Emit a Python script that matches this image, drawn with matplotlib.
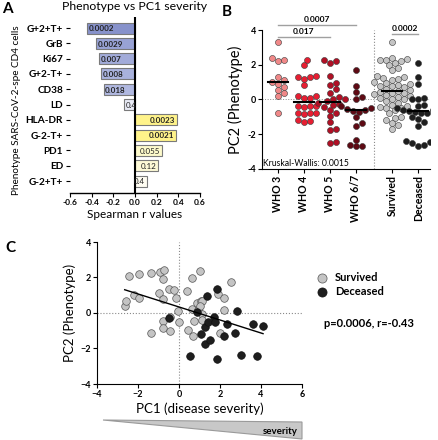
import numpy as np
import matplotlib
matplotlib.use("Agg")
import matplotlib.pyplot as plt
from matplotlib.patches import Polygon

plt.rcParams['font.family'] = ['Lato', 'DejaVu Sans']
plt.rcParams['font.weight'] = 'bold'

# ===== Panel A data =====
markers = ['G+2+T+', 'GrB', 'Ki67', 'G+2-T+', 'CD38', 'LD',
           'HLA-DR', 'G-2-T+', 'PD1', 'ED', 'G-2+T+']
spearman_r = [-0.44, -0.36, -0.335, -0.31, -0.29, -0.10,
              0.39, 0.38, 0.25, 0.21, 0.11]
p_labels = ['0.0002', '0.0029', '0.007', '0.008', '0.018', '0.4',
            '0.0023', '0.0021', '0.055', '0.12', '0.4']
bar_colors = ['#8792CB', '#98A2D5', '#A2ABD9', '#A9B2DD', '#B0B8E0', '#E9EBF6',
              '#FFF38A', '#FFF38A', '#FDFACB', '#FDF9D6', '#FFFDF2']

# ===== Panel B data =====
groups = ['WHO 3', 'WHO 4', 'WHO 5', 'WHO 6/7', 'Survived', 'Deceased']
who3 = [3.3, 2.4, 2.3, 2.2, 1.3, 1.1, 1.0, 0.9, 0.7, 0.55, 0.35, 0.2, -0.8]
who4 = [2.3, 2.0, 1.35, 1.3, 1.3, 1.2, 0.85, 0.2, 0.2, 0.1, 0.1, -0.4, -0.4,
        -0.4, -0.45, -0.8, -0.8, -0.8, -0.85, -1.2, -1.3, -1.25]
who5 = [2.3, 2.2, 2.1, 1.35, 0.95, 0.85, 0.6, 0.35, 0.15, 0.05, 0.0, -0.1,
        -0.2, -0.25, -0.3, -0.45, -0.6, -0.75, -0.95, -1.3, -1.7, -1.75,
        -2.45, -2.5]
who67 = [1.7, 0.8, 0.45, 0.15, 0.05, -0.4, -0.5, -0.55, -0.6, -0.65, -0.7,
         -1.0, -1.35, -1.55, -2.35, -2.6, -2.65, -2.7]
survived = [3.3, 2.4, 2.35, 2.3, 2.3, 2.2, 2.1, 2.0, 1.8, 1.7, 1.35, 1.3,
            1.25, 1.2, 1.1, 1.0, 0.95, 0.9, 0.85, 0.8, 0.75, 0.7, 0.6, 0.55,
            0.5, 0.45, 0.4, 0.35, 0.3, 0.25, 0.2, 0.15, 0.1, 0.05, 0.0, -0.1,
            -0.2, -0.3, -0.4, -0.45, -0.5, -0.5, -0.6, -0.8, -1.0, -1.05,
            -1.2, -1.35, -1.45, -1.7]
deceased = [2.1, 1.3, 0.9, 0.1, 0.0, 0.0, -0.3, -0.4, -0.5, -0.55, -0.6,
            -0.6, -0.65, -0.7, -0.75, -0.8, -1.0, -1.1, -1.3, -1.5, -2.35,
            -2.4, -2.45, -2.5, -2.6, -2.65]
group_values = [who3, who4, who5, who67, survived, deceased]
group_pos = [0, 1, 2, 3, 4.4, 5.4]
group_colors = ['#F08888', '#E61E32', '#B01025', '#5E0A14', '#C4C4C4', '#1E1E1E']

# ===== Panel C data =====
surv_pc1 = [-2.65, -2.6, -2.45, -2.2, -1.95, -1.93, -1.35, -1.35, -1.0, -0.95,
            -0.8, -0.78, -0.72, -0.8, -0.8, -0.45, -0.45, -0.48, -0.25, -0.17,
            -0.05, 0.0, 0.4, 0.42, 0.63, 0.62, 0.7, 0.72, 0.88, 0.95, 1.0,
            1.05, 1.12, 1.12, 1.12, 1.02, 1.9, 2.2, 2.18, 2.0, 2.55]
surv_pc2 = [0.4, 0.65, 2.08, 1.0, 0.82, 2.22, 2.28, -1.15, 1.1, 2.3,
            0.78, 1.9, 2.45, -0.45, -0.82, -1.0, -0.2, 1.38, 1.32, 0.86,
            0.1, -0.5, 1.25, -0.98, 1.98, 0.2, -1.3, -0.45, 0.57, 0.18, 2.35,
            0.69, -0.08, -0.42, 0.65, 0.4, 1.05, 0.85, 0.18, -1.1, 1.72]
dec_pc1 = [-0.5, 0.55, 0.9, 1.05, 1.25, 1.25, 1.35, 1.4, 1.5, 1.7, 1.75,
           1.85, 1.85, 2.2, 2.35, 2.75, 2.85, 3.0, 3.6, 3.8, 4.1]
dec_pc2 = [-0.3, -2.45, 0.05, -1.2, -0.8, -1.75, 0.95, -0.5, -1.5, -0.2, -0.5,
           1.35, -2.6, -1.3, -0.6, -1.1, 0.1, -2.35, -0.6, -2.45, -0.75]


def swarm(vals, center, xpx, ypx, d):
    # simple beeswarm: pixel spacing d, xpx/ypx = pixels per data unit
    vals = np.asarray(vals, float)
    xs = np.full(len(vals), center, float)
    placed = []
    for i in np.argsort(vals):
        y = vals[i] * ypx
        for k in range(60):
            off = ((k + 1) // 2) * (1 if k % 2 else -1) * d * 0.5
            if all((off - px) ** 2 + (y - py) ** 2 >= d * d * 0.95 for px, py in placed):
                break
        placed.append((off, y))
        xs[i] = center + off / xpx
    return xs


fig = plt.figure(figsize=(4.38, 4.40), dpi=100)
W, H = 438.0, 440.0


def box(x0, y0, x1, y1):
    return [x0 / W, 1 - y1 / H, (x1 - x0) / W, (y1 - y0) / H]


# ===== Panel A =====
axA = fig.add_axes(box(70, 17, 200, 193))
ypos = np.arange(len(markers))
axA.barh(ypos, spearman_r, height=0.72, color=bar_colors, edgecolor='#7A7A7A', linewidth=0.8)
axA.axvline(0, color='black', lw=1.5)
for yy, r, lab in zip(ypos, spearman_r, p_labels):
    sig = float(lab) < 0.05
    if r < 0:
        axA.text(r + 0.015, yy + 0.05, lab, ha='left', va='center', fontsize=5.8,
                 fontweight='bold' if sig else 'normal', color='#222222')
    else:
        axA.text(r - 0.015, yy + 0.05, lab, ha='right', va='center', fontsize=5.8,
                 fontweight='bold' if sig else 'normal', color='#222222')
axA.set_ylim(10.78, -0.72)
axA.set_xlim(-0.6, 0.6)
axA.set_yticks(ypos)
axA.set_yticklabels(markers, fontsize=7.2)
axA.set_xticks(np.arange(-0.6, 0.61, 0.2))
axA.set_xticklabels(['-0.6', '-0.4', '-0.2', '0.0', '0.2', '0.4', '0.6'], fontsize=6)
for s in ['top', 'right', 'left']:
    axA.spines[s].set_visible(False)
axA.spines['bottom'].set_linewidth(1.0)
axA.tick_params(axis='y', length=3, width=0.8, pad=2)
axA.tick_params(axis='x', length=3, width=0.8, pad=1.5)
axA.set_xlabel('Spearman r values', fontsize=8.5, labelpad=2)
axA.set_ylabel('Phenotype SARS-CoV-2-spe CD4 cells', fontsize=7.2, labelpad=4)
axA.yaxis.set_label_coords(-0.38, 0.47)
axA.set_title('Phenotype vs PC1 severity', fontsize=8.8, pad=5)
fig.text(2 / W, 1 - 9 / H, 'A', fontsize=11, fontweight='bold', va='center')

# ===== Panel B =====
axB = fig.add_axes(box(262, 30, 430, 169))
xlimB = (-0.6, 5.85)
axB.set_xlim(*xlimB)
axB.set_ylim(-4, 4)
xpxB = 168 / (xlimB[1] - xlimB[0])
ypxB = 139 / 8.0
for vals, pos, col in zip(group_values, group_pos, group_colors):
    xs = swarm(vals, pos, xpxB, ypxB, 6.0)
    axB.scatter(xs, vals, s=19, color=col, edgecolors='#3A3A3A', linewidths=0.4, zorder=3)
    med = np.median(vals)
    axB.plot([pos - 0.38, pos + 0.38], [med, med], color='black', lw=1.5, zorder=4)
axB.axhline(0, color='#8A8A8A', lw=0.7, ls=':', zorder=1)
axB.axvline(3.7, color='#8A8A8A', lw=0.8, ls=':', zorder=1)
axB.set_xticks(group_pos)
axB.set_xticklabels(groups, rotation=90, fontsize=7.6)
axB.set_yticks([-4, -2, 0, 2, 4])
axB.set_yticklabels(['-4', '-2', '0', '2', '4'], fontsize=6.5)
for s in ['top', 'right']:
    axB.spines[s].set_visible(False)
axB.tick_params(length=3, width=0.8, pad=1.5)
axB.set_ylabel('PC2 (Phenotype)', fontsize=10.5, labelpad=3)
# significance brackets
for (a, b, yl, txt) in [(0, 3, 4.3, '0.0007'), (0, 2, 3.62, '0.017'), (4.4, 5.4, 3.75, '0.0002')]:
    axB.plot([a, b], [yl, yl], color='#A0A0A0', lw=1.0, clip_on=False)
    axB.text((a + b) / 2, yl + 0.12, txt, ha='center', va='bottom', fontsize=6, clip_on=False)
axB.text(-0.55, -3.68, 'Kruskal-Wallis: 0.0015', fontsize=6.2, fontweight='normal', va='center')
fig.text(222 / W, 1 - 12 / H, 'B', fontsize=11, fontweight='bold', va='center')

# ===== Panel C =====
axC = fig.add_axes(box(97, 242, 302, 384))
axC.scatter(surv_pc1, surv_pc2, s=30, color='#C4C4C4', edgecolors='#555555', linewidths=0.5,
            zorder=3, label='Survived')
axC.scatter(dec_pc1, dec_pc2, s=30, color='#1E1E1E', edgecolors='#111111', linewidths=0.5,
            zorder=3, label='Deceased')
all_x = np.array(surv_pc1 + dec_pc1)
all_y = np.array(surv_pc2 + dec_pc2)
slope, icpt = np.polyfit(all_x, all_y, 1)
xl = np.array([all_x.min(), all_x.max()])
axC.plot(xl, slope * xl + icpt, color='black', lw=1.0, zorder=4)
axC.axhline(0, color='#8A8A8A', lw=0.8, ls=':', zorder=1)
axC.axvline(0, color='#8A8A8A', lw=0.8, ls=':', zorder=1)
axC.set_xlim(-4, 6)
axC.set_ylim(-4, 4)
axC.set_xticks([-4, -2, 0, 2, 4, 6])
axC.set_yticks([-4, -2, 0, 2, 4])
axC.tick_params(labelsize=6.5, length=3, width=0.8, pad=1.5)
for s in ['top', 'right']:
    axC.spines[s].set_visible(False)
axC.set_xlabel('PC1 (disease severity)', fontsize=9.5, labelpad=2)
axC.set_ylabel('PC2 (Phenotype)', fontsize=9.5, labelpad=3)
axC.legend(loc='upper left', bbox_to_anchor=(1.02, 0.82), frameon=False, fontsize=8,
           handletextpad=0.2, labelspacing=0.3, borderaxespad=0, markerscale=1.2)
fig.text(324 / W, 1 - 323 / H, 'p=0.0006, r=-0.43', fontsize=8, fontweight='bold', va='center')
fig.text(5 / W, 1 - 248 / H, 'C', fontsize=11, fontweight='bold', va='center')

# severity wedge
wedge = Polygon([(103 / W, 1 - 420 / H), (302 / W, 1 - 422 / H), (302 / W, 1 - 439 / H)],
                closed=True, transform=fig.transFigure, facecolor='#C8C8C8', edgecolor='#9A9A9A', lw=0.8)
fig.patches.append(wedge)
fig.text(298 / W, 1 - 431 / H, 'severity', fontsize=7, fontweight='bold', ha='right', va='center')

fig.savefig('out.png', dpi=100)
